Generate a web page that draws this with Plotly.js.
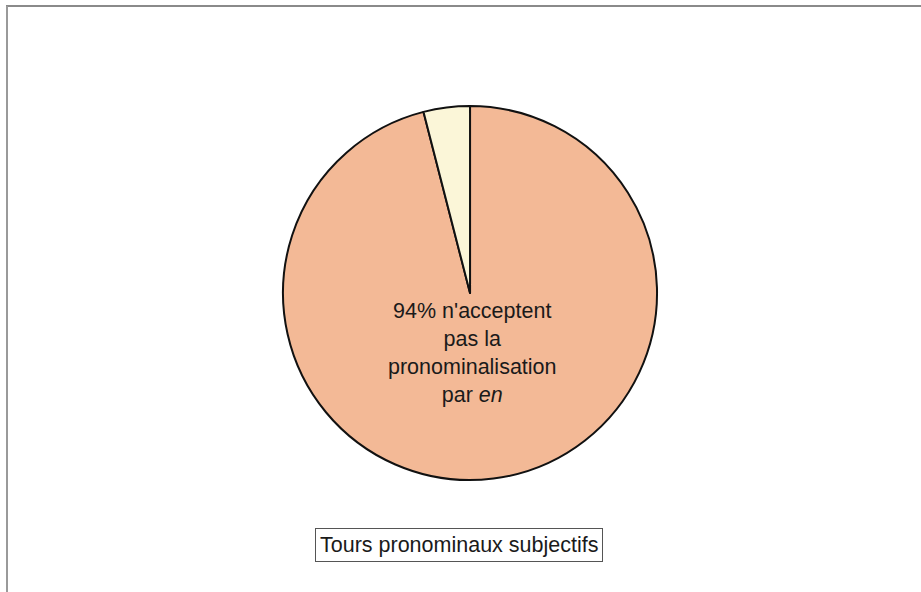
<!DOCTYPE html>
<html>
<head>
<meta charset="utf-8">
<script src="https://cdn.plot.ly/plotly-3.0.1.min.js"></script>
<style>html,body{margin:0;padding:0;background:#fff;}#chart{width:921px;height:592px;}</style>
</head>
<body>
<div id="chart"></div>
<script>
var categories = ["N'acceptent pas la pronominalisation par en", "Acceptent"];
var values = [96, 4];
var sliceColors = ["#F3B996", "#FBF6D8"];
var mainLabel = "94% n'acceptent<br>pas la<br>pronominalisation<br>par <i>en</i>";
var chartTitle = "Tours pronominaux subjectifs";

var trace = {
  type: "pie",
  labels: categories,
  values: values,
  sort: false,
  direction: "clockwise",
  rotation: 0,
  textinfo: "none",
  hoverinfo: "label+percent",
  marker: {colors: sliceColors, line: {color: "#111", width: 2}},
  domain: {x: [0.3073, 0.7134], y: [0.189, 0.821]},
  showlegend: false
};

var layout = {
  width: 921, height: 592,
  margin: {l: 0, r: 0, t: 0, b: 0},
  paper_bgcolor: "#ffffff",
  font: {family: "Liberation Sans, Arial, sans-serif", color: "#1a1a1a"},
  shapes: [
    {type: "line", xref: "paper", yref: "paper", x0: 6/921, x1: 1, y0: 1 - 6/592, y1: 1 - 6/592, line: {color: "#8a8a8a", width: 2}},
    {type: "line", xref: "paper", yref: "paper", x0: 7/921, x1: 7/921, y0: 0, y1: 1 - 6/592, line: {color: "#9a9a9a", width: 2}}
  ],
  annotations: [
    {text: mainLabel, xref: "paper", yref: "paper", x: 472/921, y: 1 - 353/592, xanchor: "center", yanchor: "middle",
     showarrow: false, align: "center", font: {size: 21.5, color: "#1a1a1a"}},
    {text: chartTitle, xref: "paper", yref: "paper", x: 459/921, y: 1 - 545/592, xanchor: "center", yanchor: "middle",
     showarrow: false, font: {size: 21.5, color: "#1a1a1a"}, bordercolor: "#555", borderwidth: 1, borderpad: 4, bgcolor: "#fff"}
  ]
};

Plotly.newPlot("chart", [trace], layout, {displayModeBar: false, staticPlot: true});
</script>
</body>
</html>
